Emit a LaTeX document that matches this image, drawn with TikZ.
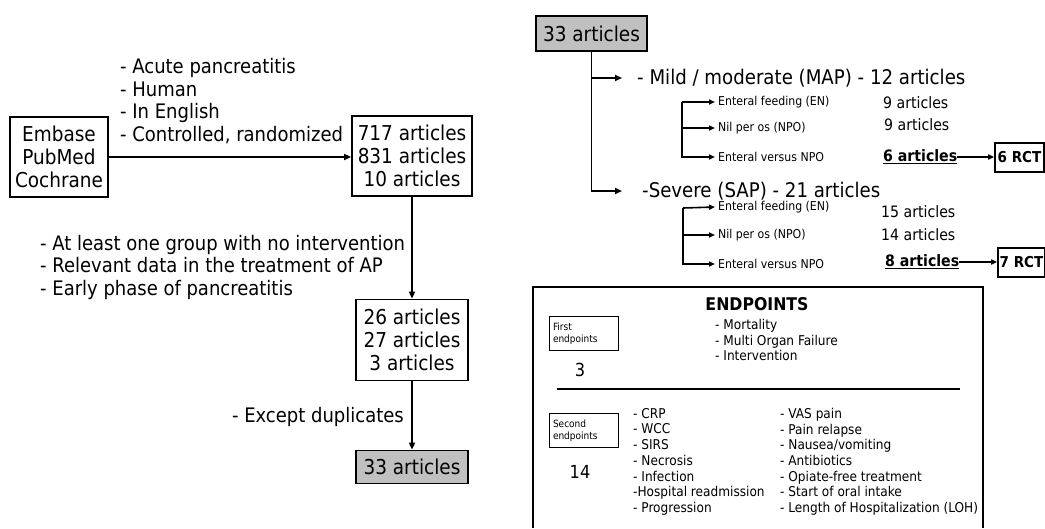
\documentclass[tikz,border=0pt]{standalone}
\usepackage{fontspec}
\setmainfont{DejaVu Sans Condensed}
\usepackage{tikz}
\usetikzlibrary{arrows.meta,positioning,calc}
\definecolor{BoxGray}{RGB}{192,192,192}

\tikzset{
  artbox/.style={draw, line width=1.8pt, align=center, inner sep=0pt,
                 font=\fontsize{20.5}{23}\selectfont},
  flow/.style={line width=1.8pt, -{Triangle[length=7pt,width=6pt]}},
  thinflow/.style={line width=1.6pt, -{Triangle[length=6pt,width=5pt]}},
  crit/.style={align=left, anchor=west, inner sep=0pt,
               font=\fontsize{20}{22.5}\selectfont},
  sublabel/.style={anchor=west, inner xsep=3pt, inner ysep=0pt,
                   font=\fontsize{12.2}{14}\selectfont},
  count/.style={anchor=west, inner sep=0pt, font=\fontsize{15.7}{18}\selectfont},
  rctbox/.style={draw, line width=1.6pt, inner sep=0pt, font=\bfseries\fontsize{15}{17}\selectfont},
  epbox/.style={draw, line width=0.9pt, align=left, inner xsep=4pt, inner ysep=0pt,
                text width=61pt, minimum height=34pt,
                font=\fontsize{10}{12}\selectfont},
  epitem/.style={align=left, anchor=north west, inner sep=0pt,
                 font=\fontsize{13.5}{15.7}\selectfont},
}

\begin{document}
\begin{tikzpicture}[x=1pt, y=-1pt]
  \useasboundingbox (0,0) rectangle (1045,528);

  % Search and selection column
  \node[artbox, minimum width=98pt, minimum height=80pt] (src) at (59,157)
    {Embase\\PubMed\\Cochrane};
  \node[artbox, minimum width=120pt, minimum height=80pt] (art1) at (412,156)
    {717 articles\\831 articles\\10 articles};
  \node[artbox, minimum width=112pt, minimum height=81pt] (art2) at (412,340)
    {26 articles\\27 articles\\3 articles};
  \node[artbox, fill=BoxGray, minimum width=112pt, minimum height=33pt] (art3) at (412,467)
    {33 articles};

  \node[crit] (crit1) at (120,101)
    {- Acute pancreatitis\\- Human\\- In English\\- Controlled, randomized};
  \node[crit] (crit2) at (40,267)
    {- At least one group with no intervention\\- Relevant data in the treatment of AP\\- Early phase of pancreatitis};
  \node[crit, anchor=east] (crit3) at (404,417) {- Except duplicates};

  \draw[flow] (src.east) -- (src.east -| art1.west);
  \draw[flow] (art1.south) -- (art2.north);
  \draw[flow] (art2.south) -- (art3.north);

  % Severity split
  \node[artbox, fill=BoxGray, minimum width=111pt, minimum height=35pt] (top33) at (591.5,33.5)
    {33 articles};
  \node[anchor=west, inner xsep=15pt, inner ysep=0pt, font=\fontsize{20.2}{23}\selectfont]
    (map) at (622,78) {- Mild / moderate (MAP) - 12 articles};
  \node[anchor=west, inner xsep=20pt, inner ysep=0pt, font=\fontsize{20.2}{23}\selectfont]
    (sap) at (622,191) {-Severe (SAP) - 21 articles};
  \draw[flow] (top33.south) |- (map.west);
  \draw[flow] (top33.south) |- (sap.west);

  % MAP rows
  \node[sublabel] (en1) at (715,102) {Enteral feeding (EN)};
  \node[sublabel] (npo1) at (715,128) {Nil per os (NPO)};
  \node[sublabel] (vs1) at (715,157) {Enteral versus NPO};
  \coordinate (mapfork) at (682,102);
  \draw[thinflow] (mapfork) -- (en1.west);
  \draw[thinflow] (mapfork) |- (npo1.west);
  \draw[thinflow] (mapfork) |- (vs1.west);
  \node[count] (c1) at (883,103) {9 articles};
  \node[count] (c2) at (884,125) {9 articles};
  \node[count] (c3) at (883,157) {\bfseries\underline{6 articles}};
  \node[rctbox, minimum width=49pt, minimum height=29pt] (rct1) at (1019.5,157.5) {6 RCT\hspace{2pt}};
  \draw[thinflow] (c3.east) -- (c3.east -| rct1.west);

  % SAP rows
  \node[sublabel] (en2) at (715,207) {Enteral feeding (EN)};
  \node[sublabel] (npo2) at (715,235) {Nil per os (NPO)};
  \node[sublabel] (vs2) at (715,264) {Enteral versus NPO};
  \coordinate (sapfork) at (683,208);
  \draw[thinflow] (sapfork) -- (en2.west);
  \draw[thinflow] (sapfork) |- (npo2.west);
  \draw[thinflow] (sapfork) |- (vs2.west);
  \node[count] (c4) at (881,212) {15 articles};
  \node[count] (c5) at (881,235) {14 articles};
  \node[count] (c6) at (885,262) {\bfseries\underline{8 articles}};
  \node[rctbox, minimum width=47pt, minimum height=29pt] (rct2) at (1021.5,262.5) {7 RCT\hspace{2pt}};
  \draw[thinflow] (c6.east) -- (c6.east -| rct2.west);

  % Endpoints panel
  \draw[line width=1.8pt] (533,528) |- (983,287) -- (983,528);
  \node[font=\bfseries\fontsize{17.5}{20}\selectfont, inner sep=0pt] (ephead) at (757,304) {ENDPOINTS};
  \node[epbox] (first) at (583.5,333.5) {First\\endpoints};
  \node[font=\fontsize{18}{20}\selectfont, inner sep=0pt] (nfirst) at (580,370) {3};
  \node[epitem] (firstlist) at (715,319) {- Mortality\\- Multi Organ Failure\\- Intervention};
  \draw[line width=1.3pt] (557,389) -- (960,389);
  \node[epbox] (second) at (583.5,430.5) {Second\\endpoints};
  \node[font=\fontsize{18}{20}\selectfont, inner sep=0pt] (nsecond) at (580,472) {14};
  \node[epitem] (seclistA) at (633,408)
    {- CRP\\- WCC\\- SIRS\\- Necrosis\\- Infection\\-Hospital readmission\\- Progression};
  \node[epitem] (seclistB) at (780,408)
    {- VAS pain\\- Pain relapse\\- Nausea/vomiting\\- Antibiotics\\- Opiate-free treatment\\- Start of oral intake\\- Length of Hospitalization (LOH)};
\end{tikzpicture}
\end{document}
